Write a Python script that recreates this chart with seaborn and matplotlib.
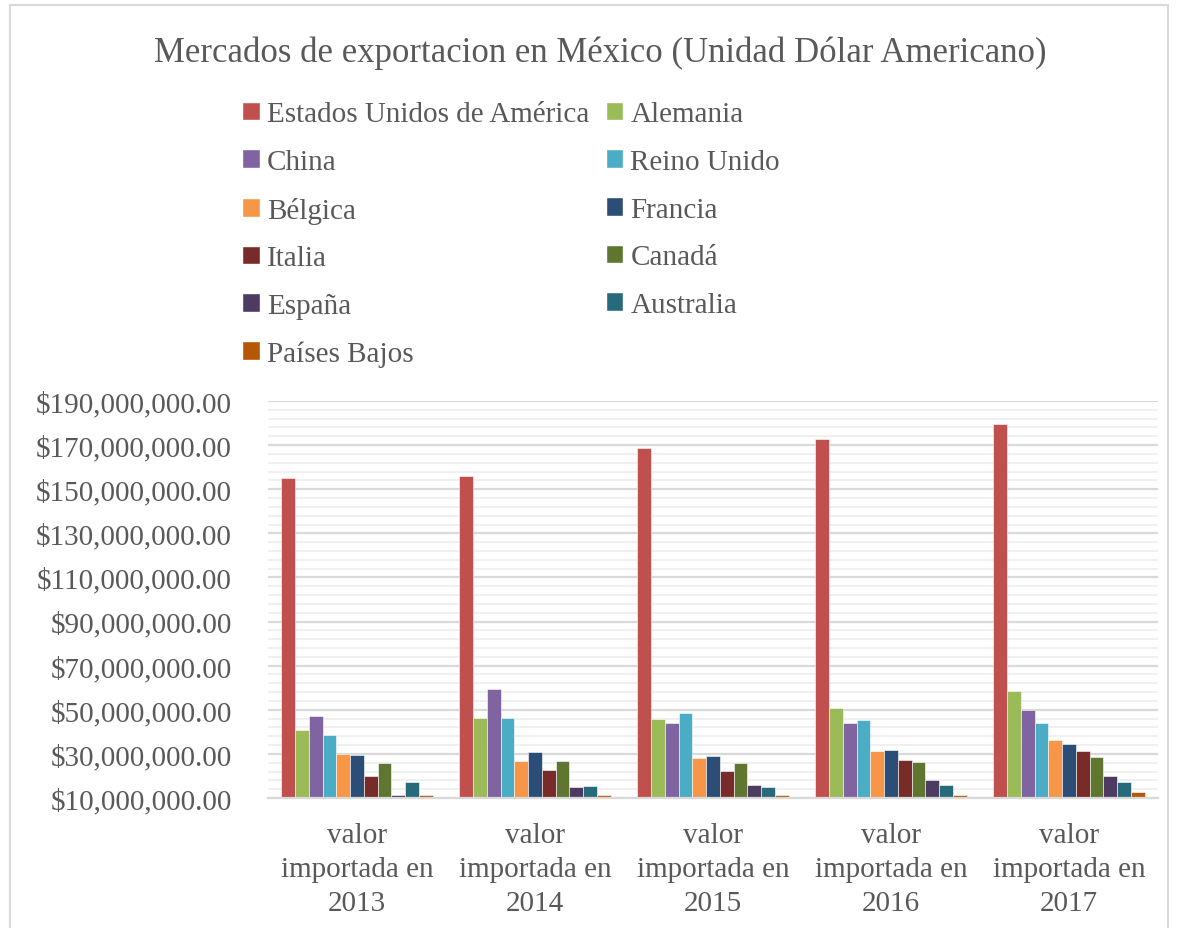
import matplotlib
matplotlib.use('Agg')
import matplotlib.pyplot as plt
import matplotlib.ticker as mticker
from matplotlib.patches import Patch, Rectangle
import pandas as pd
import seaborn as sns

years = ['valor\nimportada en\n2013', 'valor\nimportada en\n2014', 'valor\nimportada en\n2015',
         'valor\nimportada en\n2016', 'valor\nimportada en\n2017']
countries = ['Estados Unidos de América', 'Alemania', 'China', 'Reino Unido', 'Bélgica',
             'Francia', 'Italia', 'Canadá', 'España', 'Australia', 'Países Bajos']
# valores en millones de dolares, uno por año
usa = [155.3, 156.1, 168.8, 172.6, 179.4]
alemania = [40.9, 46.4, 45.9, 51.0, 58.3]
china = [47.3, 59.5, 44.1, 43.8, 49.9]
reino_unido = [38.6, 46.1, 48.5, 45.3, 44.1]
belgica = [29.8, 26.8, 28.2, 31.2, 36.2]
francia = [29.5, 30.9, 29.0, 31.7, 34.5]
italia = [20.0, 22.6, 22.4, 27.3, 31.2]
canada = [26.0, 26.8, 26.0, 26.2, 28.5]
espana = [11.2, 14.8, 16.0, 18.2, 20.0]
australia = [17.4, 15.6, 15.0, 15.8, 17.3]
paises_bajos = [11.4, 11.5, 11.2, 11.2, 12.6]

series = [usa, alemania, china, reino_unido, belgica, francia,
          italia, canada, espana, australia, paises_bajos]
colors = ['#C0504D', '#9BBB59', '#8064A2', '#4BACC6', '#F79646', '#2C4D75',
          '#772C2A', '#5F7530', '#4D3B62', '#276A7C', '#B65708']

rows = []
for name, vals in zip(countries, series):
    for yr, v in zip(years, vals):
        rows.append({'anio': yr, 'pais': name, 'valor': v * 1e6})
df = pd.DataFrame(rows)

sns.set_style('white')
plt.rcParams['font.family'] = ['Liberation Serif', 'DejaVu Serif']
txt = '#595959'

fig = plt.figure(figsize=(11.77, 9.29), dpi=100)
fig.patches.append(Rectangle((10 / 1177, -0.01), 1158 / 1177, 1 - 6 / 929 + 0.01,
                             transform=fig.transFigure, fill=False,
                             edgecolor='#d9d9d9', lw=1.5))
ax = fig.add_axes([268 / 1177, 130 / 929, 890 / 1177, 397 / 929])

sns.barplot(data=df, x='anio', y='valor', hue='pais', order=years, hue_order=countries,
            palette=colors, width=0.85, ax=ax, legend=False, saturation=1,
            edgecolor='white', linewidth=0.4)

ax.set_ylim(10e6, 190e6)
ax.yaxis.set_major_locator(mticker.MultipleLocator(20e6, offset=10e6))
ax.yaxis.set_minor_locator(mticker.MultipleLocator(4e6, offset=2e6))
ax.yaxis.set_major_formatter(mticker.FuncFormatter(lambda v, p: f'${v:,.2f}'))
ax.grid(axis='y', which='major', color='#d9d9d9', lw=1.6)
ax.grid(axis='y', which='minor', color='#f0f0f0', lw=1.4)
ax.set_axisbelow(True)
for s in ['top', 'right', 'left']:
    ax.spines[s].set_visible(False)
ax.spines['bottom'].set_color('#d9d9d9')
ax.spines['bottom'].set_linewidth(1.6)
ax.tick_params(axis='both', which='both', length=0, labelsize=21, colors=txt)
ax.tick_params(axis='y', pad=26)
ax.tick_params(axis='x', pad=17)
for t in ax.get_xticklabels():
    t.set_linespacing(1.42)
ax.set_xlabel('')
ax.set_ylabel('')

fig.text(600 / 1177, 1 - 53 / 929, 'Mercados de exportacion en México (Unidad Dólar Americano)',
         ha='center', va='center', fontsize=25, color=txt)

handles = [Patch(facecolor=c, label=n) for n, c in zip(countries, colors)]
order = [0, 2, 4, 6, 8, 10, 1, 3, 5, 7, 9]
leg = fig.legend([handles[i] for i in order], [countries[i] for i in order], ncol=2,
                 loc='upper left', bbox_to_anchor=(222 / 1177, 1 - 82 / 929),
                 frameon=False, fontsize=21, handlelength=0.6, handleheight=0.6,
                 handletextpad=0.25, columnspacing=0.55, labelspacing=0.74,
                 borderpad=0.2, labelcolor=txt)

fig.savefig('out.png', dpi=100)
